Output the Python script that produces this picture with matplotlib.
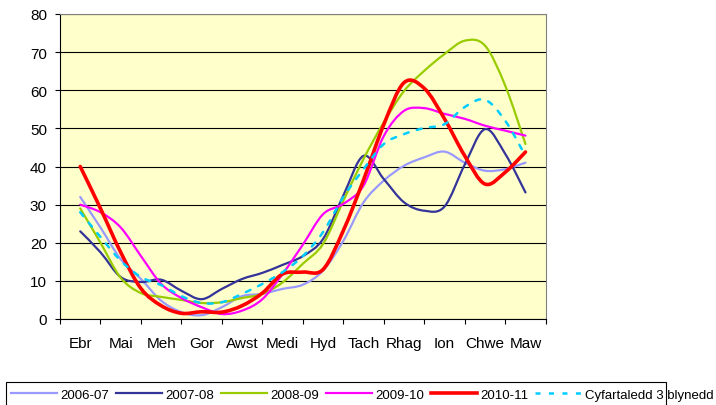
# Rainfall-style seasonal chart, Welsh month labels, five seasons plus 3-year average

import matplotlib
matplotlib.use("Agg")
import matplotlib.pyplot as plt
import matplotlib.patches as patches
from matplotlib.path import Path
from matplotlib.lines import Line2D
import numpy as np

# -----------------------------------------------------------------------------
# Data (two readings per month, Ebr .. Maw)

months = ["Ebr", "Mai", "Meh", "Gor", "Awst", "Medi", "Hyd", "Tach", "Rhag", "Ion", "Chwe", "Maw"]

s_2006_07 = [32, 24, 15.7, 10.5, 4.8, 1.8, 1.0, 3.1, 6.0, 6.6, 7.9, 9.0,
             12.7, 20.5, 30.6, 36.3, 40.2, 42.4, 43.9, 41.0, 38.9, 39.3, 41.0]
s_2007_08 = [23, 17.5, 11.0, 9.7, 10.3, 7.4, 5.2, 7.9, 10.5, 12.1, 14.2, 16.5,
             21.0, 32.4, 42.8, 36.7, 30.6, 28.4, 29.5, 40.5, 49.8, 43.3, 33.2]
s_2008_09 = [29, 20, 10.8, 6.8, 5.8, 5.0, 4.2, 4.4, 5.5, 6.6, 9.6, 14.5,
             19.7, 31.0, 42.0, 51.6, 59.8, 65.1, 69.5, 73.0, 71.7, 61.2, 45.9]
s_2009_10 = [30, 28, 24, 16.5, 9.2, 5.5, 3.1, 1.3, 2.2, 5.2, 11.8, 19.5,
             27.5, 30.2, 35.0, 48.0, 54.6, 55.3, 53.8, 52.5, 50.7, 49.4, 48.1]
s_2010_11 = [40, 29, 17.5, 8.0, 3.5, 1.5, 1.9, 1.8, 3.5, 6.8, 11.8, 12.3,
             13.0, 23.2, 36.5, 51.0, 62.0, 60.5, 52.5, 42.8, 35.4, 38.5, 43.8]
s_average = [28, 21.5, 15.3, 11.0, 8.9, 6.0, 4.2, 4.4, 6.6, 9.2, 12.3, 16.5,
             22.8, 32.0, 39.3, 45.9, 48.5, 50.1, 51.1, 55.6, 57.5, 52.0, 42.8]

labels = ["2006-07", "2007-08", "2008-09", "2009-10", "2010-11", "Cyfartaledd 3 blynedd"]

# -----------------------------------------------------------------------------
# Functions

def smooth_line(ax, xs, ys, **style):
    """
    Draws a smoothed line (like Excel's smoothed line option) through the
    points as cubic Bezier segments and returns a legend proxy.
    """
    pts = np.column_stack([xs, ys]).astype(float)
    n = len(pts)
    verts = [pts[0]]
    codes = [Path.MOVETO]
    for i in range(n - 1):
        p0 = pts[max(i - 1, 0)]
        p1 = pts[i]
        p2 = pts[i + 1]
        p3 = pts[min(i + 2, n - 1)]
        verts += [p1 + (p2 - p0) / 6.0, p2 - (p3 - p1) / 6.0, p2]
        codes += [Path.CURVE4, Path.CURVE4, Path.CURVE4]
    patch = patches.PathPatch(Path(verts, codes), fill=False, edgecolor=style["color"],
                              lw=style["lw"], linestyle=style.get("linestyle", "-"),
                              capstyle="round", joinstyle="round")
    ax.add_patch(patch)
    return Line2D([], [], color=style["color"], lw=style["lw"],
                  linestyle=style.get("linestyle", "-"))

# -----------------------------------------------------------------------------
# Plot

plt.rcParams['font.family'] = ['Liberation Sans', 'DejaVu Sans']
plt.rcParams['lines.scale_dashes'] = False

fig = plt.figure(figsize=(7.16, 4.06), dpi=100)
ax = fig.add_axes([60/716, 86/406, 485.7/716, 305/406])
ax.set_facecolor("#FFFFCC")

x = np.arange(len(s_2006_07)) * 0.5
dash = (0, (3.6, 6.1))

handles = [
    smooth_line(ax, x, s_2006_07, color="#9999FF", lw=1.6),
    smooth_line(ax, x, s_2007_08, color="#333399", lw=1.6),
    smooth_line(ax, x, s_2008_09, color="#99CC00", lw=1.6),
    smooth_line(ax, x, s_2009_10, color="#FF00FF", lw=1.6),
    smooth_line(ax, x, s_2010_11, color="#FF0000", lw=2.6),
    smooth_line(ax, x, s_average, color="#00CCFF", lw=1.8, linestyle=dash),
]

ax.set_xlim(-0.5, 11.5)
ax.set_ylim(0, 80)
ax.set_yticks(np.arange(0, 81, 10))
ax.yaxis.grid(True, color="black", lw=0.8)
ax.set_axisbelow(True)

ax.set_xticks(np.arange(-0.5, 12, 1))
ax.set_xticklabels([])
ax.set_xticks(np.arange(12), minor=True)
ax.set_xticklabels(months, minor=True)
ax.tick_params(axis="x", which="major", direction="out", length=3.6, width=0.8)
ax.tick_params(axis="x", which="minor", length=0, pad=12, labelsize=11)
ax.tick_params(axis="y", direction="out", length=3.6, width=0.8, pad=5.8, labelsize=11)

for side in ["left", "bottom"]:
    ax.spines[side].set_color("black")
    ax.spines[side].set_linewidth(0.8)
for side in ["top", "right"]:
    ax.spines[side].set_color("#808080")
    ax.spines[side].set_linewidth(0.8)

# Legend (text overflows the box on the right like in the original)
fig.legend(handles, labels, ncol=6, frameon=False, fontsize=9.5,
           loc="center left", bbox_to_anchor=(11/716, 1 - 395.7/406),
           borderpad=0, borderaxespad=0, handlelength=3.5,
           handletextpad=0.23, columnspacing=0.53)
box = patches.Rectangle((6/716, 1 - 412/406), 659.5/716, 29/406, transform=fig.transFigure,
                        fill=False, edgecolor="black", lw=0.8, clip_on=False)
fig.patches.append(box)

plt.savefig("out.png", dpi=100)
